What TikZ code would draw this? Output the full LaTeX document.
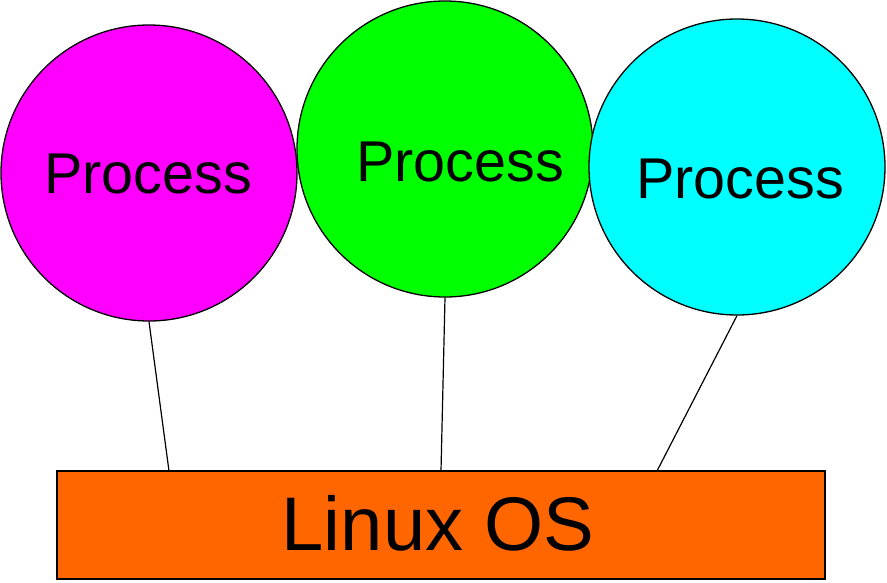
\documentclass[tikz,border=0pt]{standalone}
\usepackage{fontspec}
\setmainfont{Liberation Sans}
\begin{document}
\begin{tikzpicture}[x=1pt,y=-1pt,
  proc/.style={circle,draw=black,line width=1.3pt,minimum size=296pt,inner sep=0pt},
  lbl/.style={anchor=base,inner sep=0pt,font=\fontsize{57.5}{60}\selectfont},
  conn/.style={draw=black,line width=1.2pt}]
\useasboundingbox (0,0) rectangle (887,582);
\node[draw=black,line width=1.5pt,fill={rgb,255:red,255;green,102;blue,0},minimum width=768pt,minimum height=108pt,inner sep=0pt] (os) at (441,525) {};
\node[anchor=base,inner sep=0pt,font=\fontsize{76}{80}\selectfont] (ost) at (438,550) {Linux OS};
\node[proc,fill={rgb,255:red,255;green,0;blue,255}] (m) at (149,173) {};
\node[proc,fill={rgb,255:red,0;green,255;blue,0}] (g) at (445,149) {};
\node[proc,fill={rgb,255:red,0;green,255;blue,255}] (c) at (737,167) {};
\node[lbl] (mt) at (148,193) {Process};
\node[lbl] (gt) at (460,181) {Process};
\node[lbl] (ct) at (740,198) {Process};
\coordinate (a1) at (169,471);
\coordinate (a2) at (441,471);
\coordinate (a3) at (657,471);
\draw[conn] (m.south) -- (a1);
\draw[conn] (g.south) -- (a2);
\draw[conn] (c.south) -- (a3);
\end{tikzpicture}
\end{document}
